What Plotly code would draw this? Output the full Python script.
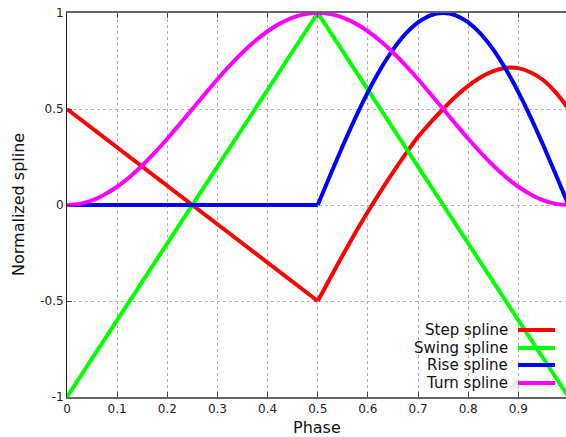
import plotly.graph_objects as go

phase = [0.0, 0.025, 0.05, 0.075, 0.1, 0.125, 0.15, 0.175, 0.2, 0.225,
         0.25, 0.275, 0.3, 0.325, 0.35, 0.375, 0.4, 0.425, 0.45, 0.475,
         0.5, 0.525, 0.55, 0.575, 0.6, 0.625, 0.65, 0.675, 0.7, 0.725,
         0.75, 0.775, 0.8, 0.825, 0.85, 0.875, 0.9, 0.925, 0.95, 0.975, 1.0]

step_spline = [0.5, 0.45, 0.4, 0.35, 0.3, 0.25, 0.2, 0.15, 0.1, 0.05,
               0.0, -0.05, -0.1, -0.15, -0.2, -0.25, -0.3, -0.35, -0.4, -0.45,
               -0.5, -0.38, -0.26, -0.145, -0.035, 0.07, 0.17, 0.265, 0.355, 0.43,
               0.5, 0.565, 0.62, 0.665, 0.697, 0.715, 0.713, 0.69, 0.65, 0.585, 0.5]

swing_spline = [-1.0, -0.9, -0.8, -0.7, -0.6, -0.5, -0.4, -0.3, -0.2, -0.1,
                0.0, 0.1, 0.2, 0.3, 0.4, 0.5, 0.6, 0.7, 0.8, 0.9,
                1.0, 0.9, 0.8, 0.7, 0.6, 0.5, 0.4, 0.3, 0.2, 0.1,
                0.0, -0.1, -0.2, -0.3, -0.4, -0.5, -0.6, -0.7, -0.8, -0.9, -1.0]

rise_spline = [0.0, 0.0, 0.0, 0.0, 0.0, 0.0, 0.0, 0.0, 0.0, 0.0,
               0.0, 0.0, 0.0, 0.0, 0.0, 0.0, 0.0, 0.0, 0.0, 0.0,
               0.0, 0.156, 0.309, 0.454, 0.588, 0.707, 0.809, 0.891, 0.951, 0.988,
               1.0, 0.988, 0.951, 0.891, 0.809, 0.707, 0.588, 0.454, 0.309, 0.156, 0.0]

turn_spline = [0.0, 0.006, 0.024, 0.055, 0.095, 0.146, 0.206, 0.273, 0.345, 0.422,
               0.5, 0.578, 0.655, 0.727, 0.794, 0.854, 0.905, 0.946, 0.976, 0.994,
               1.0, 0.994, 0.976, 0.946, 0.905, 0.854, 0.794, 0.727, 0.655, 0.578,
               0.5, 0.422, 0.345, 0.273, 0.206, 0.146, 0.095, 0.055, 0.024, 0.006, 0.0]

series_names = ["Step spline", "Swing spline", "Rise spline", "Turn spline"]
series_values = [step_spline, swing_spline, rise_spline, turn_spline]
series_colors = ["#ff0000", "#00ff00", "#0000ff", "#ff00ff"]

x_ticks = [0, 0.1, 0.2, 0.3, 0.4, 0.5, 0.6, 0.7, 0.8, 0.9]
x_tick_labels = ["0", "0.1", "0.2", "0.3", "0.4", "0.5", "0.6", "0.7", "0.8", "0.9"]
y_ticks = [-1, -0.5, 0, 0.5, 1]
y_tick_labels = ["-1", "-0.5", "0", "0.5", "1"]

MID = phase.index(0.5)

fig = go.Figure()
for name, vals, col in zip(series_names, series_values, series_colors):
    if name == "Turn spline":
        segs = [(phase, vals, "spline")]
    elif name == "Swing spline":
        segs = [(phase, vals, "linear")]
    else:
        # straight first half, smooth curved second half (kink at 0.5 kept sharp)
        segs = [(phase[:MID + 1], vals[:MID + 1], "linear"),
                (phase[MID:], vals[MID:], "spline")]
    for xs, ys, shp in segs:
        fig.add_trace(go.Scatter(x=xs, y=ys, mode="lines", name=name,
                                 line=dict(color=col, width=4, shape=shp, smoothing=0.8),
                                 showlegend=False))

# custom legend (text right, sample line on the right)
legend_rows_y = [0.1745, 0.1276, 0.0833, 0.0365]
for name, col, yy in zip(series_names, series_colors, legend_rows_y):
    fig.add_annotation(xref="paper", yref="paper", x=0.887, y=yy, text=name,
                       showarrow=False, xanchor="right", yanchor="middle",
                       font=dict(family="DejaVu Sans", size=15, color="#111"))
    fig.add_shape(type="line", xref="paper", yref="paper", x0=0.904, x1=0.978,
                  y0=yy, y1=yy, line=dict(color=col, width=4))

title_font = dict(family="DejaVu Sans", size=16, color="#111")
fig.add_annotation(xref="paper", yref="paper", x=0.5, y=0, yshift=-30,
                   text="Phase", showarrow=False, xanchor="center", yanchor="middle",
                   font=title_font)
fig.add_annotation(xref="paper", yref="paper", x=0, y=0.5, xshift=-49,
                   text="Normalized spline", showarrow=False, textangle=-90,
                   xanchor="center", yanchor="middle", font=title_font)

font = dict(family="DejaVu Sans", size=12, color="#222")
fig.update_layout(
    width=566, height=437,
    margin=dict(l=67, r=0, t=13, b=40),
    plot_bgcolor="white", paper_bgcolor="white",
    font=font,
    xaxis=dict(range=[0, 0.995], tickvals=x_ticks, ticktext=x_tick_labels,
               showgrid=True, gridcolor="#b0b0b0", griddash="dot", gridwidth=1,
               zeroline=False, showline=True, linecolor="#666", linewidth=2,
               mirror="ticks", ticks="inside", ticklen=5, tickcolor="#444",
               automargin=False),
    yaxis=dict(range=[-1, 1], tickvals=y_ticks, ticktext=y_tick_labels,
               showgrid=True, gridcolor="#b0b0b0", griddash="dot", gridwidth=1,
               zeroline=False, showline=True, linecolor="#222", linewidth=1,
               ticks="inside", ticklen=5, tickcolor="#444",
               automargin=False),
)

fig.write_html("out.html", config={"displayModeBar": False},
               post_script="document.body.style.margin='0';document.body.style.overflow='hidden';")
